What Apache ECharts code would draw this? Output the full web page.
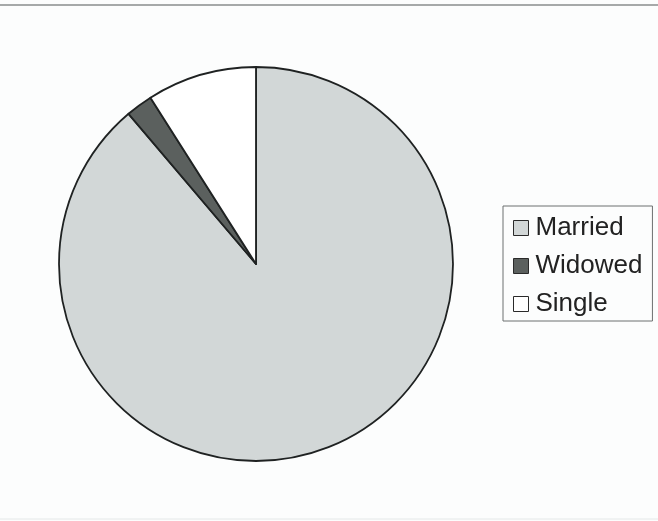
<!DOCTYPE html>
<html>
<head>
<meta charset="utf-8">
<script src="https://cdn.jsdelivr.net/npm/echarts@6/dist/echarts.min.js"></script>
<style>
html,body{margin:0;padding:0;background:#fcfdfd;}
#chart{width:658px;height:521px;}
</style>
</head>
<body>
<div id="chart"></div>
<script>
const categories = ['Married', 'Widowed', 'Single'];
const values = [88.8, 2.2, 9.0];
const colors = ['#d2d7d7', '#5b605e', '#ffffff'];

const chart = echarts.init(document.getElementById('chart'), null, {renderer: 'canvas'});
chart.setOption({
  backgroundColor: '#fcfdfd',
  animation: false,
  graphic: [
    {type: 'line', shape: {x1: 0, y1: 5, x2: 658, y2: 5}, style: {stroke: '#8a8d8d', lineWidth: 1.5}},
    {type: 'line', shape: {x1: 0, y1: 519, x2: 658, y2: 519}, style: {stroke: '#e4e8e8', lineWidth: 1}}
  ],
  legend: {
    orient: 'vertical',
    left: 503,
    top: 206,
    padding: [9, 10, 4, 10],
    itemGap: 12,
    itemWidth: 15,
    itemHeight: 15,
    icon: 'rect',
    borderColor: '#6d7070',
    borderWidth: 1,
    borderRadius: 0,
    itemStyle: {borderColor: '#2a2a2a', borderWidth: 1},
    textStyle: {fontFamily: 'Liberation Sans, Arial, sans-serif', fontSize: 26, color: '#222', padding: [0, 0, 0, 2]},
    data: categories
  },
  series: [{
    type: 'pie',
    center: [256, 264],
    radius: 197,
    startAngle: 90,
    clockwise: true,
    label: {show: false},
    labelLine: {show: false},
    emphasis: {disabled: true},
    itemStyle: {borderColor: '#1f2222', borderWidth: 1.8},
    data: categories.map((c, i) => ({name: c, value: values[i], itemStyle: {color: colors[i]}}))
  }]
});
</script>
</body>
</html>
